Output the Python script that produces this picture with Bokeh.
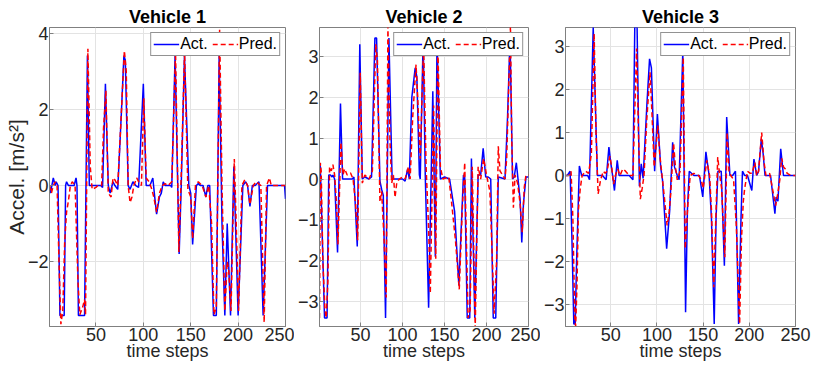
from bokeh.plotting import figure
from bokeh.layouts import row
from bokeh.models import Range1d, FixedTicker, Legend, LegendItem
from bokeh.embed import file_html
from bokeh.resources import INLINE

# ---------------- data ----------------
titles = ["Vehicle 1", "Vehicle 2", "Vehicle 3"]
x_ticks = [50, 100, 150, 200, 250]
y_ticks_1 = [-2, 0, 2, 4]
y_ticks_23 = [-3, -2, -1, 0, 1, 2, 3]
y_limits = [(-3.71, 4.16), (-3.61, 3.71), (-3.51, 3.44)]

v1_act_x = [1, 2, 5, 7, 8, 10, 12, 16.5, 18, 19, 21, 25, 27, 29, 30, 31.5, 38, 41, 43, 45, 55, 57, 60, 63, 65, 68, 70, 73, 77,
            79.5, 81, 84, 86, 89, 92, 95, 100, 103, 107, 110, 112, 114, 117, 119, 121, 123, 129, 130, 133.5, 137.8, 140,
            143.4, 148, 150, 152, 156, 158, 160, 163, 166, 168, 170, 174, 177, 180, 183, 186, 188.5, 192, 195.5, 200, 205,
            208, 210, 212.5, 215, 218, 222, 226.4, 231, 249, 250]
v1_act_y = [0, -0.2, 0.2, 0, 0.1, 0, -3.42, -3.42, 0, 0.1, 0, 0, 0, 0.2, 0, -3.42, -3.42, 3.42, 0, 0, 0, -0.05, 2.68, 0, -0.2,
            0.1, 0, -0.1, 2.0, 3.42, 3.3, 0, -0.1, 0.1, 0, -0.05, 2.68, 0, 0, 0.2, -0.3, -0.75, -0.3, -0.2, 0.1, 0, 0, -0.05,
            3.42, -1.8, 0, 3.42, 0, -0.2, -1.55, 0, 0.05, 0, 0, -0.3, 0, 0, -3.42, -3.42, 3.42, -1.0, -3.42, -1.0, -3.42, 0.5,
            -3.42, 0, 0.1, 0, -0.55, 0, 0, 0.1, -3.42, 0, 0, -0.35]
v1_pred_x = [1, 3, 5, 7, 9, 11, 13, 15, 17, 19, 21, 23, 25, 28, 31, 33, 36, 38, 39, 41.5, 44, 46, 50, 52, 56, 58, 60.5, 63,
             66, 68, 70, 73, 76, 80, 82, 84, 86, 88, 90, 93, 95, 98, 100.5, 103, 106, 109, 111, 114, 117, 120, 123, 126,
             130, 134, 137.5, 140, 143.5, 147, 150, 152, 155, 158, 162, 166, 169, 172, 174.5, 177, 180.5, 183, 186, 188.5,
             190, 192.5, 196, 198, 200.5, 204, 207, 210, 212.5, 216, 219, 224, 227.5, 230, 233, 235, 250]
v1_pred_y = [0, -0.2, 0, 0.1, 0, -2.0, -3.65, -3.3, -1.5, -0.7, -0.4, 0, 0.1, 0, -2.5, -3.4, -3.2, -3.0, -3.4, 3.6, 0.5,
             -0.1, -0.05, 0, 0, 1.5, 2.5, -0.2, -0.3, 0.2, 0.15, 0, 1.5, 3.55, 3.0, 0, -0.45, -0.3, 0, 0.2, 0.1, 0, 2.3,
             0.2, 0.1, -0.1, -0.3, -0.7, -0.2, 0, 0.05, 0, 0.1, 3.5, -1.75, 0.3, 3.5, -0.1, -0.3, -1.4, 0, 0.1, 0, -0.3, 0,
             -1.0, -3.4, -3.2, 4.1, 0, -3.3, -2.0, -2.2, -3.3, 0.7, -1.0, -3.3, 0, 0.15, 0, -0.5, 0, 0.1, 0, -3.6, 0, 0.2,
             0, 0]

v2_act_x = [1, 2, 7, 10, 12, 14, 16, 17, 19, 22.5, 26, 28.5, 32, 36, 40, 42, 46, 49, 52, 55, 60, 63, 67, 69, 73, 75, 77,
            79.7, 83.7, 87.5, 95, 100, 103, 106, 108, 111, 115, 117, 120, 121, 124.5, 127, 131, 136, 139, 141, 145, 150,
            156, 162, 167, 172.5, 174, 177, 180, 182, 186, 190, 193, 196, 199, 202, 205, 208, 211, 214, 222, 225, 228,
            231, 233, 235.5, 238, 240, 242, 244, 247, 250]
v2_act_y = [0.35, 0.3, -3.4, -3.4, 0.1, 0.1, 0.05, 0.1, 0, -1.8, 1.85, 0, 0, 0, 0, 0.05, -1.65, 3.3, 0, 0.05, 0, 0.05, 3.45,
            3.45, -0.05, -0.25, -0.4, -3.4, 3.45, 0, 0, 0, -0.05, 0.25, 0, 2.0, 2.72, 2.5, 0.1, 0, 3.45, 0.1, -3.15, 2.15,
            -1.9, 3.45, 0, 0.05, 0, -0.8, -2.6, 0.1, 0.05, -3.4, -3.4, 0.5, -3.4, 0.1, 0.1, 0.75, 0.05, 0.05, 0, -3.4, -3.4,
            0.05, 0, 1.5, 3.45, 0, 0.05, 0.4, -0.1, -0.5, -1.55, -0.6, 0.05, 0.05]
v2_pred_x = [1, 2, 3, 5, 7.5, 9, 11, 13, 15, 17, 19, 21, 23, 26.5, 29, 31, 34, 38, 41, 44, 46.5, 49.5, 52, 55, 60, 64, 68,
             70, 73, 75, 78, 80.5, 82.5, 85, 87, 89, 91, 93, 96, 100, 103, 107, 109, 112, 116, 118, 121, 125, 128, 131,
             133, 137, 139.5, 142, 145, 148, 155, 158, 163, 167.5, 171, 174, 176, 178, 180.5, 183, 186.5, 190, 193, 196.5,
             200, 204, 207, 209, 212, 214, 216, 219, 222, 224, 228.5, 230, 232, 234, 237, 240, 242.5, 245, 247, 250]
v2_pred_y = [-3.4, 0.4, 0.2, -2.0, -3.2, -3.4, -2.5, 0.3, 0.2, 0.35, 0.1, -0.5, -1.6, 0.9, 0.1, 0.25, 0.1, 0.15, 0, -0.6,
             -1.5, 2.6, -0.1, 0.1, 0, 0.2, 3.3, 2.9, -0.56, -0.3, -1.5, -2.9, 3.75, 0.9, -0.1, 0.1, -0.45, -0.1, 0, 0.05, 0,
             0.3, 0, 1.5, 2.8, 2.0, 0.5, 3.3, 0.3, -1.2, -2.8, 1.8, -1.95, 3.3, 0.3, 0, 0.05, -0.5, -1.5, -2.7, -0.8, 0.4,
             -1.5, -3.4, -3.2, 0.3, -3.65, 0.3, 0, 0.5, 0.1, -0.3, -2.0, -3.3, -2.0, 0.8, 0.2, 0.1, 0, 0.5, 3.75, 1.0,
             -0.7, 0.1, -0.1, -0.6, -1.3, -0.2, 0.1, 0.1]

v3_act_x = [1, 3, 6, 8, 10, 11.5, 13, 16, 18.5, 22, 25, 27, 31, 35.5, 38, 41, 45, 48, 50, 52, 54, 57, 59, 65, 70, 74, 76,
            78.5, 81, 83, 85, 89, 92, 94, 97.5, 100.5, 104, 106, 110.5, 113.8, 117, 119, 122, 124, 128, 131, 133, 135, 140,
            146, 149.6, 153, 156.5, 159, 162, 164, 166, 169.6, 173, 175.5, 179, 182, 185, 188.4, 191, 192.6, 195, 198,
            202.7, 205, 208, 210, 213, 215, 217, 220, 223, 227.7, 229, 231, 234, 237, 250]
v3_act_y = [0, 0, 0.1, -1.5, -3.45, -3.45, -2.0, 0.22, 0, 0, 0, -0.1, 3.45, 0, 0, 0, -0.1, 0.66, 0.3, 0, -0.35, 0.35, 0, 0,
            0, -0.1, 3.45, 3.45, -0.25, 0.27, -0.07, 1.6, 2.71, 2.5, 0.1, 1.43, 0.2, -0.1, -1.7, -0.81, 0.77, 0.2, 0, -0.1,
            2.9, -3.18, -0.8, 0.1, 0, 0, -0.5, 0.55, 0, -1.0, -3.45, -1.0, 0.1, 0.1, -2.1, 1.36, 0, 0, 0.1, -3.45, -1.0,
            0.1, 0, 0, -0.35, 0.38, 0, 0.1, 0.85, 0.5, 0, 0, 0, -0.89, -0.5, -0.6, 0.62, 0, 0]
v3_pred_x = [1, 5, 7, 9, 11, 12, 13.5, 15, 17, 19, 23, 26, 29, 32, 34, 36.3, 39, 42, 44, 46, 49, 51, 53, 55, 57.5, 60, 63,
             66, 70, 74, 76, 78, 80, 82, 84, 86, 89, 92.5, 94.5, 97, 101, 103, 105, 108, 111, 113, 115, 118, 120, 122, 125,
             128.5, 130.6, 133.5, 136, 140, 145, 148, 150, 154, 157, 159, 161.5, 163, 165.8, 168, 170, 173.5, 176, 178, 180,
             183, 186, 189.5, 191.5, 193.5, 195, 198, 201, 203, 206, 208, 210, 213.4, 216, 218, 222, 225, 228.5, 231, 233,
             235, 237, 239, 241, 245, 250]
v3_pred_y = [0, 0, 0.1, -1.0, -3.3, -3.5, -2.5, -0.8, -0.3, 0, 0.1, 0.05, 0.5, 3.3, 1.0, -0.43, -0.1, 0.1, 0.05, 0.1, 0.45,
             0.2, -0.2, 0, 0.15, 0, 0.15, 0.1, 0, 0, 1.5, 2.95, 1.0, -0.55, -0.3, 0, 1.3, 2.4, 1.5, 0.2, 1.16, 0.5, 0.1,
             -0.5, -1.16, -0.9, -0.4, 0.75, 0.2, -0.1, 0.1, 2.75, -1.7, -0.66, 0, 0.05, 0, -0.1, -0.3, 0.35, 0, -0.8, -2.6,
             -1.5, 0.43, 0, -0.3, -1.9, 1.0, 0.1, 0, -0.1, -1.2, -3.45, -1.5, -0.6, -0.3, 0.1, 0.05, 0.05, 0.3, 0, 0.1, 1.0,
             0.3, 0, 0.05, -0.3, -0.7, -0.4, -0.1, 0.4, 0.2, 0.15, 0.05, 0, 0]

# ---------------- styling ----------------
FONT = "Liberation Sans"
AX = "#808080"
TXT = "#262626"
GRID = "#e3e3e3"
FIG_H = 367


def make_panel(title, ax, ay, px, py, ylim, yticks, width, bl, br, ylabel=None):
    p = figure(width=width, height=FIG_H, x_range=Range1d(1, 250), y_range=Range1d(*ylim),
               output_backend="svg", toolbar_location=None,
               min_border_left=bl, min_border_right=br, min_border_top=27, min_border_bottom=41)
    p.background_fill_color = "white"
    p.border_fill_color = "white"
    p.outline_line_color = AX
    p.outline_line_width = 1

    p.title.text = title
    p.title.align = "center"
    p.title.text_font = FONT
    p.title.text_font_size = "18px"
    p.title.text_font_style = "bold"
    p.title.text_color = "black"
    p.title.standoff = 1

    p.xaxis.ticker = FixedTicker(ticks=x_ticks)
    p.yaxis.ticker = FixedTicker(ticks=yticks)
    for a in (p.xaxis, p.yaxis):
        a.axis_line_color = AX
        a.major_tick_line_color = AX
        a.major_tick_in = 4
        a.major_tick_out = 0
        a.minor_tick_line_color = None
        a.major_label_text_font = FONT
        a.major_label_text_font_size = "18px"
        a.major_label_text_color = TXT
        a.major_label_standoff = 1
        a.axis_label_text_font = FONT
        a.axis_label_text_font_style = "normal"
        a.axis_label_text_color = TXT
        a.axis_label_standoff = -3
    p.xaxis.axis_label = "time steps"
    p.xaxis.axis_label_text_font_size = "18px"
    if ylabel:
        p.yaxis.axis_label = ylabel
        p.yaxis.axis_label_text_font_size = "21px"

    p.xgrid.grid_line_color = GRID
    p.ygrid.grid_line_color = GRID

    r1 = p.line(ax, ay, line_color="#0000ff", line_width=1.5)
    r2 = p.line(px, py, line_color="#ff0000", line_width=1.5, line_dash="5 3")

    leg = Legend(items=[LegendItem(label="Act.", renderers=[r1]), LegendItem(label="Pred.", renderers=[r2])],
                 location="top_right", orientation="horizontal")
    leg.label_text_font = FONT
    leg.label_text_font_size = "16px"
    leg.label_text_color = "black"
    leg.glyph_width = 26
    leg.glyph_height = 14
    leg.label_standoff = 1
    leg.spacing = 4
    leg.padding = 2
    leg.margin = 5
    leg.border_line_color = TXT
    leg.border_line_width = 1
    leg.background_fill_alpha = 1
    p.add_layout(leg)
    return p


p1 = make_panel(titles[0], v1_act_x, v1_act_y, v1_pred_x, v1_pred_y, y_limits[0], y_ticks_1, 294, 49, 9,
                ylabel="Accel. [m/s\u00b2]")
p2 = make_panel(titles[1], v2_act_x, v2_act_y, v2_pred_x, v2_pred_y, y_limits[1], y_ticks_23, 246, 25, 12)
p3 = make_panel(titles[2], v3_act_x, v3_act_y, v3_pred_x, v3_pred_y, y_limits[2], y_ticks_23, 282, 23, 27)

layout = row(p1, p2, p3)
open("out.html", "w").write(file_html(layout, INLINE))
